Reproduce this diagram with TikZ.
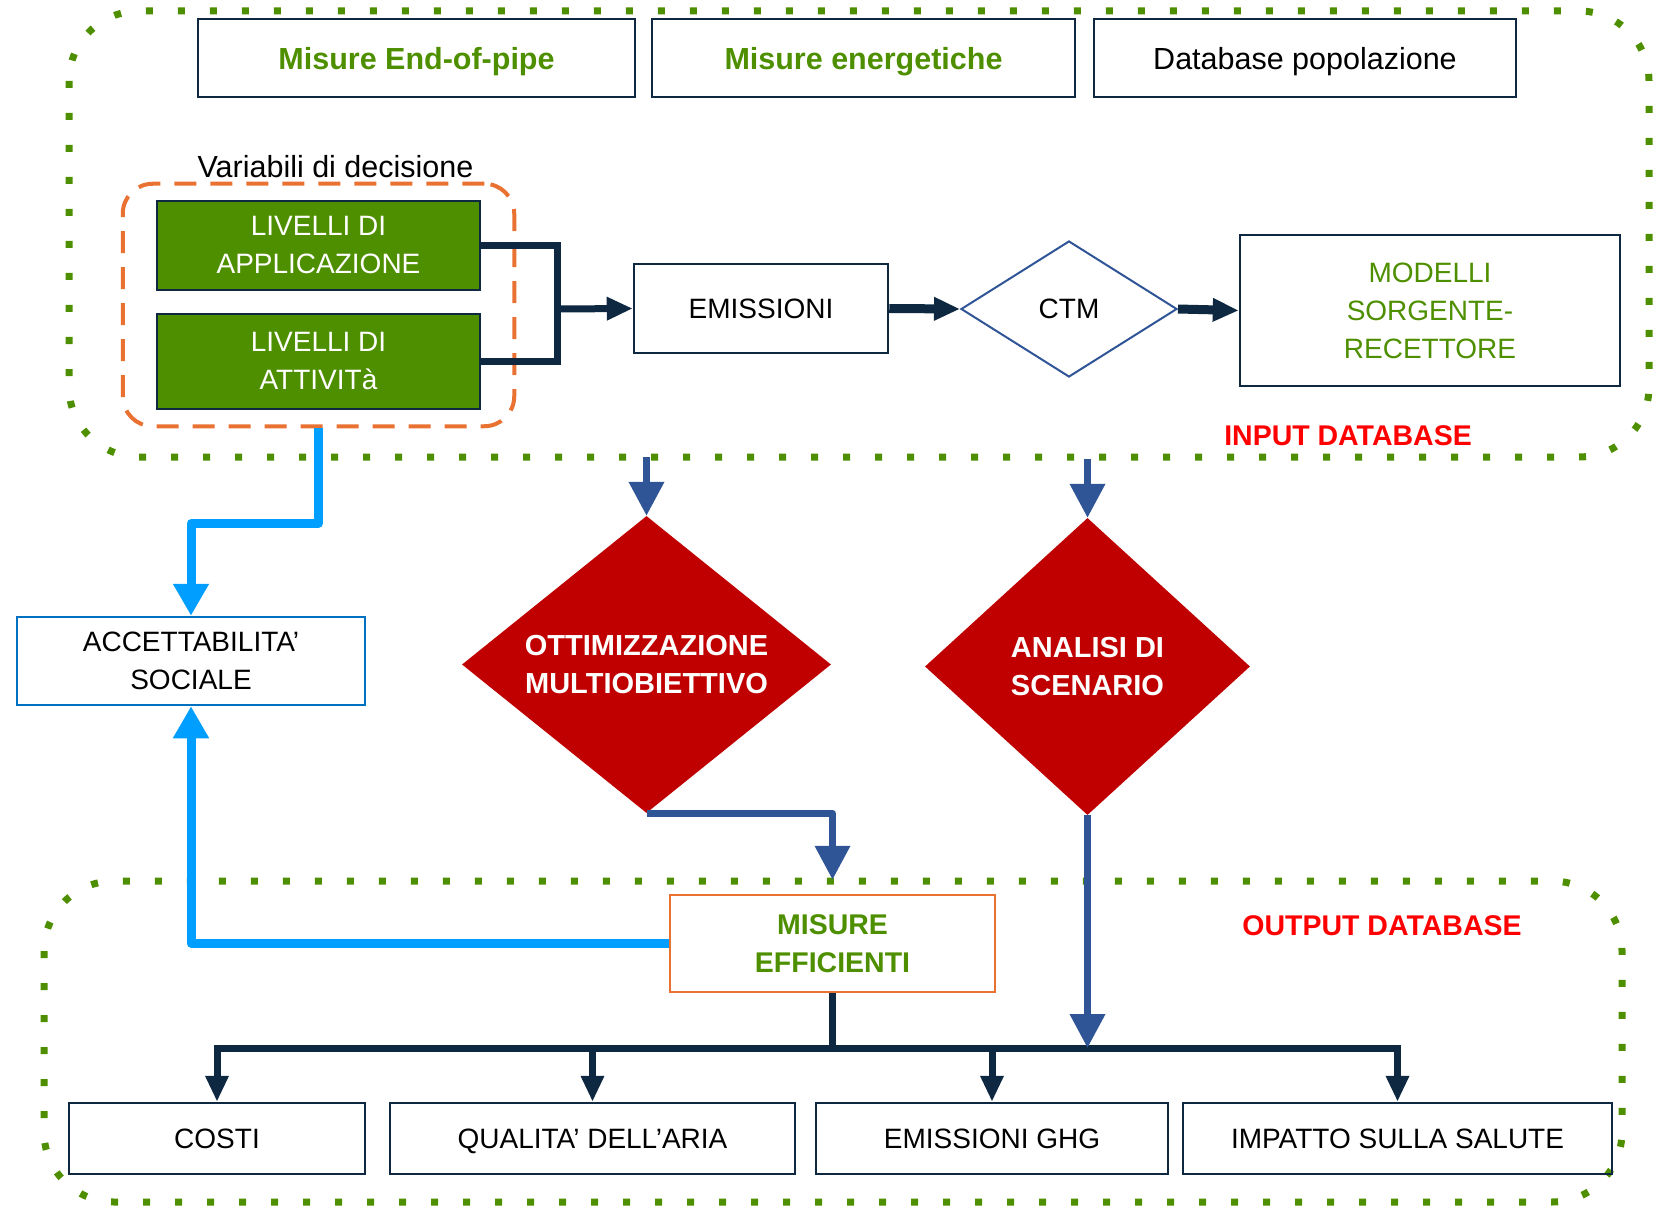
\documentclass[tikz,border=0pt]{standalone}
\usepackage{fontspec}
\setmainfont{Liberation Sans}
\usetikzlibrary{arrows.meta,shapes.geometric,fit,positioning}
\definecolor{navy}{HTML}{0E2841}
\definecolor{ogreen}{HTML}{4E8F00}
\definecolor{oorange}{HTML}{E97132}
\definecolor{oblue}{HTML}{2F5597}
\definecolor{lblue}{HTML}{009FFF}
\definecolor{accblue}{HTML}{0070C0}
\definecolor{dred}{HTML}{C00000}
\definecolor{tred}{HTML}{FF0000}
\tikzset{
  txt/.style={font=\fontsize{28}{38}\selectfont},
  bold/.style={font=\fontsize{28.5}{38}\selectfont\bfseries},
  box/.style={txt,draw=navy,line width=2.5pt,align=center,inner sep=0pt,text=black},
  onebox/.style={box,text depth=0pt},
  greenbox/.style={box,fill=ogreen,text=white},
  reddiam/.style={bold,diamond,fill=dred,text=white,align=center,inner sep=0pt},
  dotbox/.style={draw=ogreen,line width=7pt,dash pattern=on 7pt off 25pt,rounded corners=70pt},
  varbox/.style={draw=oorange,line width=4pt,dash pattern=on 22pt off 14pt,rounded corners=30pt},
  navyline/.style={draw=navy,line width=7pt},
  navyarr/.style={navyline,-{Triangle[length=26pt,width=22pt]}},
  bluearr/.style={draw=oblue,line width=7pt,line join=round,-{Triangle[length=34pt,width=34pt]}},
  lbarr/.style={draw=lblue,line width=9pt,line join=round,-{Triangle[length=32pt,width=34pt]}},
}
\begin{document}
\begin{tikzpicture}[x=1pt,y=-1pt]
  \useasboundingbox (0,0) rectangle (1660,1206);
  \draw[dotbox] (69,11) rectangle (1649,457);
  \draw[dotbox] (44,881) rectangle (1622,1202);

  \node[onebox,text=ogreen,font=\fontsize{30.5}{38}\selectfont\bfseries,minimum width=437pt,minimum height=78pt] (eop) at (416.5,58) {Misure End-of-pipe};
  \node[onebox,text=ogreen,font=\fontsize{30.5}{38}\selectfont\bfseries,minimum width=423pt,minimum height=78pt] (ener) at (863.5,58) {Misure energetiche};
  \node[onebox,font=\fontsize{30.5}{38}\selectfont,minimum width=422pt,minimum height=78pt] (db) at (1305,58) {Database popolazione};

  \node[greenbox,minimum width=323pt,minimum height=89pt] (appl) at (318.5,245.5) {LIVELLI DI\\APPLICAZIONE};
  \node[greenbox,minimum width=323pt,minimum height=95pt] (att) at (318.5,361.5) {LIVELLI DI\\ATTIVITà};
  \node[varbox,fit=(appl)(att),inner xsep=33pt,inner ysep=16pt] (vars) {};
  \node[font=\fontsize{30.5}{38}\selectfont,above=0pt of vars,xshift=17pt] (vardec) {Variabili di decisione};

  \node[onebox,minimum width=254pt,minimum height=89pt] (emis) at (761,308.5) {EMISSIONI};
  \node[txt,diamond,draw=oblue,line width=2pt,inner sep=0pt,minimum width=216pt,minimum height=136pt] (ctm) at (1069,309) {CTM};
  \node[box,text=ogreen,minimum width=380pt,minimum height=151pt] (mod) at (1430,310.5) {MODELLI\\SORGENTE-\\RECETTORE};
  \node[bold,text=tred] (inlbl) at (1348,436) {INPUT DATABASE};

  \coordinate (join) at (557,309);
  \draw[navyline] (appl.east) -| (join) |- (att.east);
  \draw[navyarr] (join) -- (emis.west);
  \draw[navyarr,line width=9pt] (emis.east) -- (ctm.west);
  \draw[navyarr,line width=9pt] (ctm.east) -- (mod.west);

  \node[reddiam,font=\fontsize{29}{38}\selectfont\bfseries,minimum width=369pt,minimum height=297pt,aspect=1.24] (ott) at (646.5,664.5) {OTTIMIZZAZIONE\\MULTIOBIETTIVO};
  \node[reddiam,font=\fontsize{29}{38}\selectfont\bfseries,minimum width=325pt,minimum height=297pt,aspect=1.1] (scen) at (1087.5,666.5) {ANALISI DI\\SCENARIO};
  \coordinate (inott) at (646.5,457);
  \coordinate (inscen) at (1087.5,459);
  \draw[bluearr] (inott) -- (ott.north);
  \draw[bluearr] (inscen) -- (scen.north);

  \node[box,draw=accblue,minimum width=348pt,minimum height=88pt] (acc) at (191,661) {ACCETTABILITA’\\SOCIALE};
  \node[box,draw=oorange,text=ogreen,font=\fontsize{28.5}{38}\selectfont\bfseries,minimum width=325pt,minimum height=97pt] (eff) at (832.5,943.5) {MISURE\\EFFICIENTI};
  \node[bold,text=tred] (outlbl) at (1382,926) {OUTPUT DATABASE};

  \draw[lbarr] (vars.south) -- ++(0,95) -| (acc.north);
  \draw[lbarr] (eff.west) -| (acc.south);
  \draw[bluearr,shorten >=14pt] (ott.south) -| (eff.north);

  \node[onebox,minimum width=296pt,minimum height=71pt] (costi) at (217,1138.5) {COSTI};
  \node[onebox,minimum width=405pt,minimum height=71pt] (aria) at (592.5,1138.5) {QUALITA’ DELL’ARIA};
  \node[onebox,minimum width=352pt,minimum height=71pt] (ghg) at (992,1138.5) {EMISSIONI GHG};
  \node[onebox,minimum width=429pt,minimum height=71pt] (salute) at (1397.5,1138.5) {IMPATTO SULLA SALUTE};

  \coordinate (bus) at (832.5,1048);
  \draw[navyline] (eff.south) -- (bus);
  \foreach \b in {costi,aria,ghg,salute}
    \draw[navyarr] (bus) -| (\b.north);
  \draw[bluearr] (scen.south) -- (scen.south |- bus);
\end{tikzpicture}
\end{document}
